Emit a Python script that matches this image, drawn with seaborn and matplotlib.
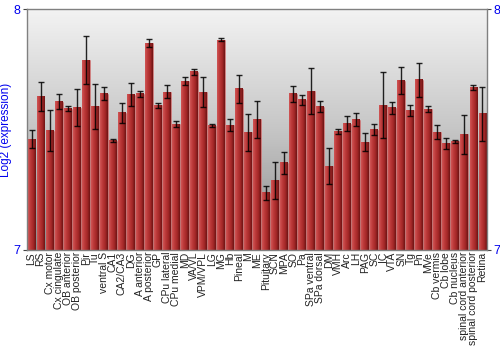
import numpy as np
import pandas as pd
import matplotlib
matplotlib.use("Agg")
import matplotlib.pyplot as plt
from matplotlib.colors import LinearSegmentedColormap
import seaborn as sns

regions = ["LS", "RS", "Cx motor", "Cx cingulate", "OB anterior", "OB posterior",
           "Pir", "Tu", "ventral S", "CA1", "CA2/CA3", "DG", "A anterior",
           "A posterior", "GP", "CPu lateral", "CPu medial", "MD", "VA/VL",
           "VPM/VPL", "LG", "MG", "Hb", "Pineal", "M", "ME", "Pituitary", "SCN",
           "MPA", "SO", "Pa", "SPa ventral", "SPa dorsal", "DM", "VMH", "Arc",
           "LH", "PAG", "SC", "IC", "VTA", "SN", "Tg", "Pn", "MVe", "Cb vermis",
           "Cb lobe", "Cb nucleus", "spinal cord anterior",
           "spinal cord posterior", "Retina"]

expression = [7.460, 7.636, 7.495, 7.616, 7.587, 7.590, 7.788, 7.597, 7.649,
              7.454, 7.569, 7.644, 7.648, 7.859, 7.600, 7.656, 7.523, 7.701,
              7.740, 7.656, 7.516, 7.872, 7.518, 7.669, 7.489, 7.542, 7.238,
              7.289, 7.362, 7.648, 7.623, 7.660, 7.594, 7.347, 7.492, 7.524,
              7.540, 7.448, 7.500, 7.602, 7.590, 7.703, 7.579, 7.706, 7.585,
              7.489, 7.442, 7.452, 7.481, 7.673, 7.565]

error = [0.037, 0.060, 0.086, 0.031, 0.012, 0.077, 0.100, 0.093, 0.026,
         0.007, 0.041, 0.048, 0.011, 0.018, 0.012, 0.027, 0.011, 0.016,
         0.012, 0.061, 0.006, 0.006, 0.025, 0.059, 0.077, 0.077, 0.029,
         0.078, 0.045, 0.032, 0.021, 0.096, 0.023, 0.075, 0.009, 0.030,
         0.027, 0.038, 0.024, 0.136, 0.026, 0.055, 0.021, 0.072, 0.013,
         0.030, 0.022, 0.006, 0.081, 0.011, 0.113]

y_ticks = [7, 8]

df = pd.DataFrame({"region": regions, "expr": expression, "err": error})

sns.set_theme(style="white")
plt.rcParams["font.family"] = ["Liberation Sans", "DejaVu Sans"]

fig = plt.figure(figsize=(5, 3.5), dpi=100)
ax = fig.add_axes([0.054, 0.286, 0.92, 0.688])

y_lo, y_hi = y_ticks[0], y_ticks[-1]
n = len(regions)

# gradient background (light at top, darker toward the bottom)
grad = np.linspace(1, 0, 256).reshape(-1, 1)
bg_cmap = LinearSegmentedColormap.from_list("bg", ["#f3f3f3", "#c6c6c6", "#8a8a8a"])
ax.imshow(grad, aspect="auto", cmap=bg_cmap, extent=[-0.5, n - 0.5, y_lo, y_hi],
          origin="lower", zorder=0)

sns.barplot(data=df, x="region", y="expr", color="#b03434", width=0.88,
            saturation=1, ax=ax, zorder=2, edgecolor="#d88080", linewidth=0.4)

bar_cmap = LinearSegmentedColormap.from_list("bar", ["#d05656", "#bb3838", "#a42828", "#6e1414"])
hgrad = np.linspace(0, 1, 64).reshape(1, -1)
for p in ax.patches:
    x0, w = p.get_x(), p.get_width()
    top = p.get_y() + p.get_height()
    ax.imshow(hgrad, aspect="auto", cmap=bar_cmap,
              extent=[x0, x0 + w, y_lo, top], zorder=2.5, origin="lower")

ax.errorbar(np.arange(n), df["expr"], yerr=df["err"], fmt="none",
            ecolor="black", elinewidth=1.0, capsize=2, capthick=1.0, alpha=0.85, zorder=3)

ax.set_xlim(-0.5, n - 0.5)
ax.set_ylim(y_lo, y_hi)
ax.set_yticks(y_ticks)
ax.set_yticklabels([str(t) for t in y_ticks])
ax.tick_params(axis="y", which="both", left=True, right=True, labelleft=True,
               labelright=True, length=3, width=0.8, color="#444444",
               labelcolor="#0000ee", labelsize=9, pad=1.5)
ax.tick_params(axis="x", bottom=False, length=0, pad=1.5)
plt.setp(ax.get_xticklabels(), rotation=90, fontsize=7.5, color="#222222")
ax.set_xlabel("")
ax.set_ylabel("Log2 (expression)", color="#0000ee", fontsize=8.5, labelpad=1)

for s in ax.spines.values():
    s.set_visible(True)
    s.set_color("#808080")
    s.set_linewidth(1.0)

fig.savefig("out.png", dpi=100)
